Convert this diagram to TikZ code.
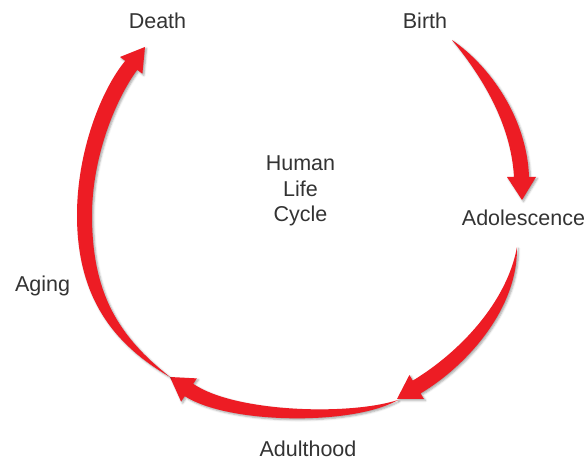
\documentclass[tikz,border=0pt]{standalone}
\usepackage{fontspec}
\setmainfont{Liberation Sans}
\usetikzlibrary{shadows.blur}
\definecolor{arrowred}{HTML}{ED1C24}
\definecolor{labelgray}{HTML}{333333}
\begin{document}
\begin{tikzpicture}[x=1pt,y=-1pt,
  lifearrow/.style={fill=arrowred,
    blur shadow={shadow xshift=1.5pt, shadow yshift=-1.5pt,
                 shadow blur radius=2pt, shadow opacity=35}},
  stage/.style={text=labelgray, inner sep=0pt, anchor=base,
    font=\fontsize{21.5}{25.5}\selectfont}]
\useasboundingbox (0,0) rectangle (587,462);

% stage labels
\node[stage] (death) at (157.5,29) {Death};
\node[stage] (birth) at (425,29) {Birth};
\node[stage] (adolescence) at (523.5,226) {Adolescence};
\node[stage] (aging) at (42.5,292) {Aging};
\node[stage] (adulthood) at (308,457) {Adulthood};
\node[text=labelgray, inner sep=0pt, align=center,
      font=\fontsize{21.5}{25.5}\selectfont] (title) at (300.5,191)
      {Human\\Life\\Cycle};

% Birth -> Adolescence
\fill[lifearrow] (452,40)
  .. controls (490,66) and (527,118) .. (529,177)
  -- (536,177) -- (522,200) -- (507,177) -- (514,177)
  .. controls (511,122) and (480,74) .. (452,40) -- cycle;

% Adolescence -> Adulthood
\fill[lifearrow] (517,247)
  .. controls (518,308) and (468,365) .. (420.6,393.4)
  -- (424,399) -- (397,399) -- (409.4,375) -- (412.8,380.6)
  .. controls (460,352) and (507,302) .. (517,247) -- cycle;

% Adulthood -> Aging
\fill[lifearrow] (398,400)
  .. controls (352,426) and (228,424) .. (184.8,396.2)
  -- (181.1,401.6) -- (170,377) -- (196.9,378.4) -- (193.2,383.8)
  .. controls (234,412) and (348,416) .. (398,400) -- cycle;

% Aging -> Death
\fill[lifearrow] (170,377)
  .. controls (113,344) and (77,297) .. (77,215)
  .. controls (77,152) and (101,90) .. (125.2,60.9)
  -- (120,57) -- (145,47) -- (142.4,73.8) -- (137.2,69.9)
  .. controls (115,100) and (92,158) .. (92,215)
  .. controls (92,293) and (118,336) .. (170,377) -- cycle;
\end{tikzpicture}
\end{document}
